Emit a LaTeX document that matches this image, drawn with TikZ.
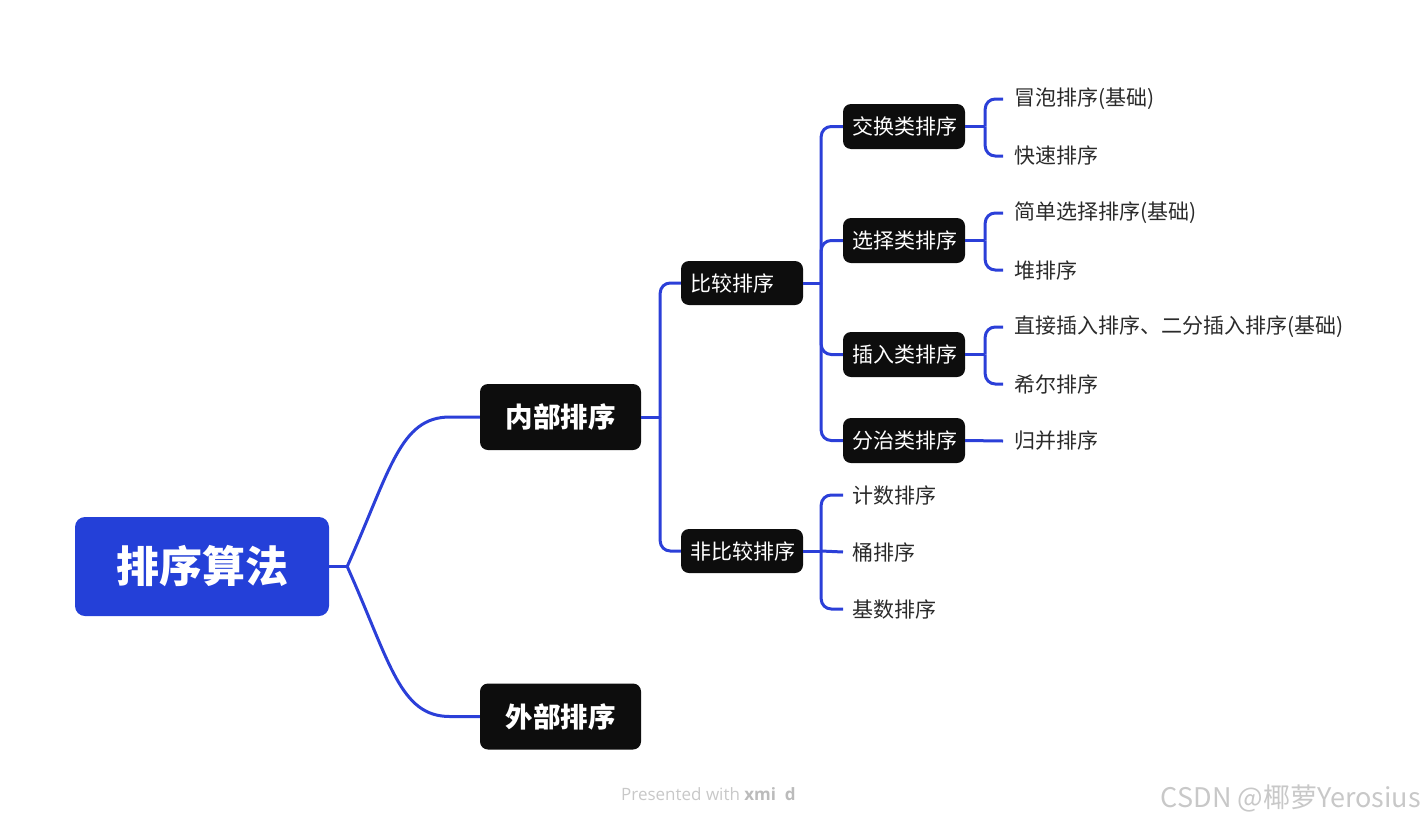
\documentclass[tikz,border=0pt]{standalone}
\usepackage{fontspec}
\setmainfont{Noto Sans CJK SC}
\newfontfamily\latinfont{Open Sans}
\usetikzlibrary{calc}
\definecolor{rootblue}{HTML}{2440D8}
\definecolor{connblue}{HTML}{2B3FD8}
\definecolor{boxblack}{HTML}{0D0D0D}
\definecolor{leafgray}{HTML}{2A2A2A}
\definecolor{wmgray}{HTML}{C8C8C8}
\definecolor{wmgrayb}{HTML}{BBBBBB}
\tikzset{
  rootbox/.style={fill=rootblue, rounded corners=10pt, minimum width=254pt, minimum height=99pt,
    text=white, font=\fontsize{43}{50}\selectfont\bfseries, inner sep=0pt},
  mainbox/.style={fill=boxblack, rounded corners=8pt, minimum width=161pt, minimum height=66pt,
    text=white, font=\fontsize{27.5}{32}\selectfont\bfseries, inner sep=0pt},
  subbox/.style={fill=boxblack, rounded corners=8pt, text width=104pt, align=left, inner xsep=9pt,
    inner ysep=0pt, minimum height=44pt, text=white, font=\fontsize{21}{24}\selectfont},
  leaf/.style={anchor=west, inner xsep=11pt, inner ysep=0pt, text=leafgray, font=\fontsize{21}{24}\selectfont},
  leafb/.style={leaf, inner xsep=9pt},
  conn/.style={draw=connblue, line width=3pt},
  rconn/.style={conn, rounded corners=10pt},
}
\begin{document}
\begin{tikzpicture}[x=1pt, y=-1pt]
\useasboundingbox (0,0) rectangle (1426,825);
% nodes
\node[rootbox] (root) at (202,566.5) {排序算法};
\node[mainbox] (nb) at (560.5,417) {内部排序};
\node[mainbox] (wb) at (560.5,716.5) {外部排序};
\node[subbox] (bj) at (742,283) {比较排序};
\node[subbox] (fbj) at (742,551) {非比较排序};
\node[subbox, minimum height=45pt] (jh) at (904,126.5) {交换类排序};
\node[subbox, minimum height=45pt] (xz) at (904,240.5) {选择类排序};
\node[subbox, minimum height=45pt] (cr) at (904,354.5) {插入类排序};
\node[subbox, minimum height=45pt] (fz) at (904,440.5) {分治类排序};
\node[leaf] (l1) at (1003,99) {冒泡排序(基础)};
\node[leaf] (l2) at (1003,156) {快速排序};
\node[leaf] (l3) at (1003,213) {简单选择排序(基础)};
\node[leaf] (l4) at (1003,270) {堆排序};
\node[leaf] (l5) at (1003,327) {直接插入排序、二分插入排序(基础)};
\node[leaf] (l6) at (1003,384) {希尔排序};
\node[leaf] (l7) at (1003,441) {归并排序};
\node[leafb] (m1) at (843,495) {计数排序};
\node[leafb] (m2) at (843,552) {桶排序};
\node[leafb] (m3) at (843,609) {基数排序};
% connectors
\draw[conn] (root.east) -- ++(18,0) coordinate (rj);
\draw[conn] (rj) .. controls +(43,-96) and +(-50,0) .. ($(nb.west)+(-30,0)$) -- (nb.west);
\draw[conn] (rj) .. controls +(43,96) and +(-50,0) .. ($(wb.west)+(-30,0)$) -- (wb.west);
\draw[conn] (nb.east) -- ++(19,0) coordinate (nj);
\draw[rconn] (nj) |- (bj.west);
\draw[rconn] (nj) |- (fbj.west);
\draw[conn] (bj.east) -- ++(18,0) coordinate (bjj);
\draw[rconn] (bjj) |- (jh.west);
\draw[rconn] (bjj) |- (xz.west);
\draw[rconn] (bjj) |- (cr.west);
\draw[rconn] (bjj) |- (fz.west);
\draw[conn] (jh.east) -- ++(20,0) coordinate (jhj);
\draw[rconn] (jhj) |- (l1.west);
\draw[rconn] (jhj) |- (l2.west);
\draw[conn] (xz.east) -- ++(20,0) coordinate (xzj);
\draw[rconn] (xzj) |- (l3.west);
\draw[rconn] (xzj) |- (l4.west);
\draw[conn] (cr.east) -- ++(20,0) coordinate (crj);
\draw[rconn] (crj) |- (l5.west);
\draw[rconn] (crj) |- (l6.west);
\draw[conn] (fz.east) -- (l7.west);
\draw[conn] (fbj.east) -- ++(18,0) coordinate (fbjj);
\draw[rconn] (fbjj) |- (m1.west);
\draw[conn] (fbjj) -- (m2.west);
\draw[rconn] (fbjj) |- (m3.west);
% watermarks
\node[anchor=west, inner sep=0pt, text=wmgray, font=\latinfont\fontsize{17}{20}\selectfont] (pw) at (621,794) {Presented with {\bfseries\color{wmgrayb}xmi\ \ d}};
\node[anchor=east, inner sep=0pt, text=wmgray, font=\fontsize{27}{32}\selectfont] (csdn) at (1421,798) {CSDN @椰萝Yerosius};
\end{tikzpicture}
\end{document}
